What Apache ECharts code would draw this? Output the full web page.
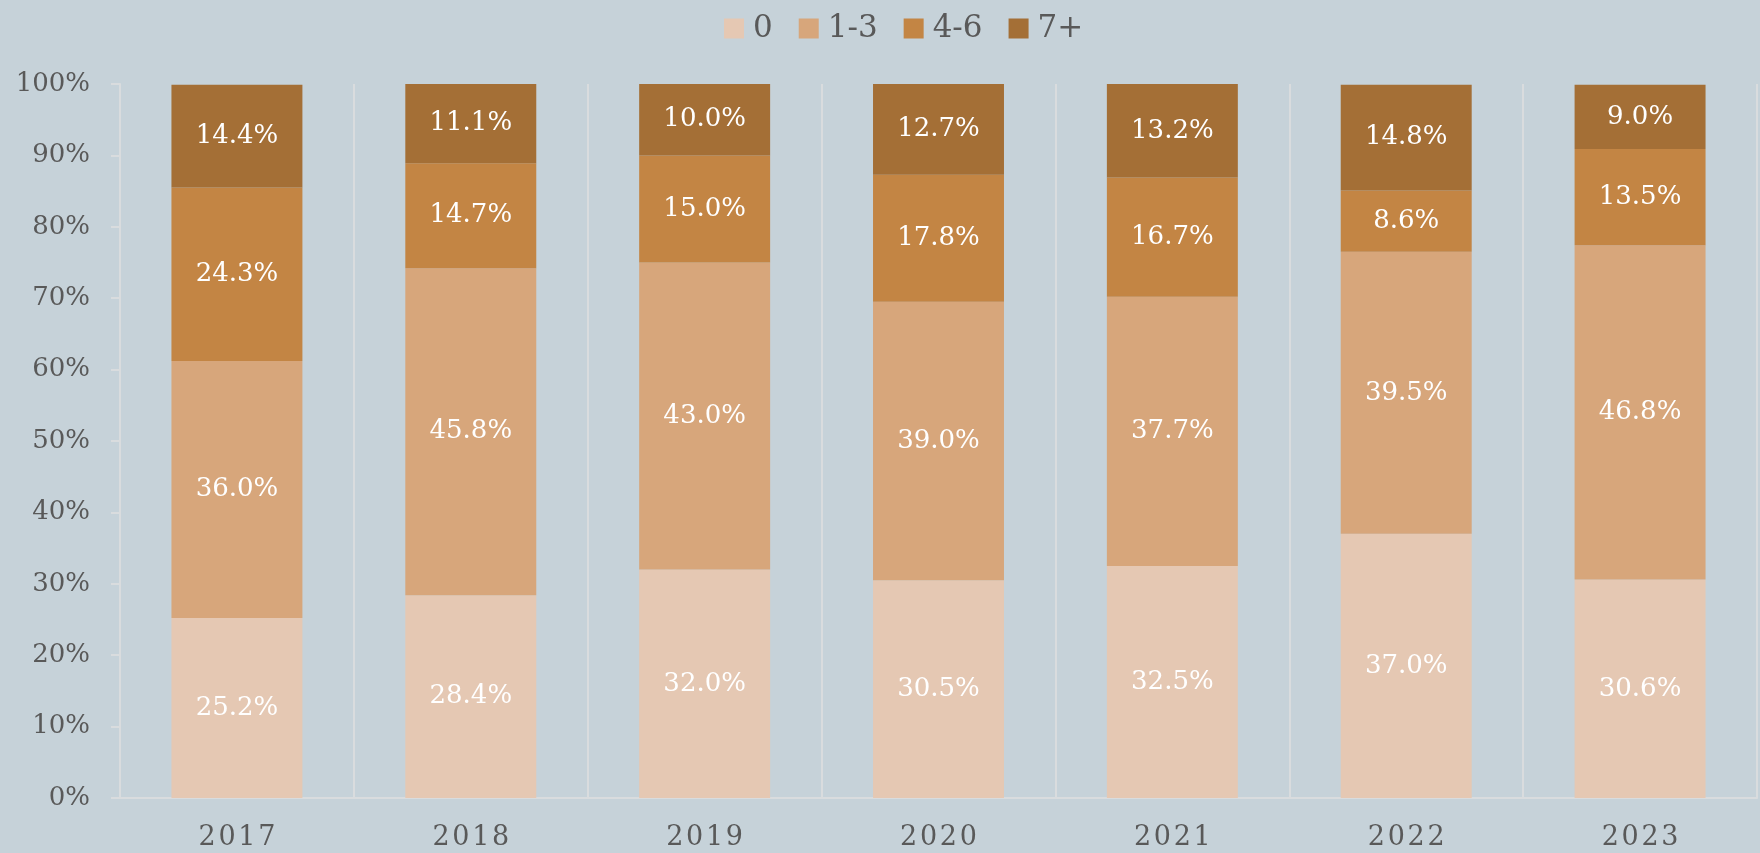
<!DOCTYPE html>
<html>
<head>
<meta charset="utf-8">
<script src="https://cdn.jsdelivr.net/npm/echarts@6/dist/echarts.min.js"></script>
<style>
  html, body { margin: 0; padding: 0; background: #c6d2d9; }
  #chart { width: 1760px; height: 853px; }
</style>
</head>
<body>
<div id="chart"></div>
<script>
  // data
  var years = ['2017', '2018', '2019', '2020', '2021', '2022', '2023'];
  var seriesNames = ['0', '1-3', '4-6', '7+'];
  var zero = [25.2, 28.4, 32.0, 30.5, 32.5, 37.0, 30.6];
  var oneToThree = [36.0, 45.8, 43.0, 39.0, 37.7, 39.5, 46.8];
  var fourToSix = [24.3, 14.7, 15.0, 17.8, 16.7, 8.6, 13.5];
  var sevenPlus = [14.4, 11.1, 10.0, 12.7, 13.2, 14.8, 9.0];
  var yTicks = [0, 10, 20, 30, 40, 50, 60, 70, 80, 90, 100];

  var font = 'Georgia, "DejaVu Serif", serif';
  var colors = ['#e5c8b3', '#d7a67b', '#c38544', '#a46f36'];
  var values = [zero, oneToThree, fourToSix, sevenPlus];

  var myChart = echarts.init(document.getElementById('chart'));

  var option = {
    backgroundColor: '#c6d2d9',
    color: colors,
    textStyle: { fontFamily: font },
    legend: {
      top: 8,
      left: 719,
      itemWidth: 20,
      itemHeight: 20,
      itemGap: 26,
      icon: 'rect',
      textStyle: { color: '#595959', fontSize: 31, fontFamily: font, padding: [0, 0, 0, 4] },
      data: seriesNames
    },
    grid: {
      left: 120,
      right: 3,
      top: 84,
      bottom: 55
    },
    xAxis: {
      type: 'category',
      data: years,
      axisTick: { show: false },
      axisLine: { lineStyle: { color: '#d9dcde', width: 2 } },
      splitLine: { show: true, lineStyle: { color: '#d9dcde', width: 2 } },
      axisLabel: {
        color: '#595959',
        fontSize: 27,
        margin: 26,
        fontFamily: font,
        formatter: function (v) { return v.split('').join('\u200a'); }
      }
    },
    yAxis: {
      type: 'value',
      min: 0,
      max: 100,
      interval: 10,
      axisLine: { show: true, lineStyle: { color: '#d9dcde', width: 2 } },
      axisTick: { show: true, length: 9, lineStyle: { color: '#d9dcde', width: 2 } },
      splitLine: { show: false },
      axisLabel: {
        color: '#595959',
        fontSize: 26,
        margin: 30,
        fontFamily: font,
        formatter: function (v) { return yTicks.indexOf(v) >= 0 ? v + '%' : ''; }
      }
    },
    series: []
  };

  seriesNames.forEach(function (name, i) {
    option.series.push({
      name: name,
      type: 'bar',
      stack: 'total',
      barWidth: '56%',
      data: values[i],
      itemStyle: { color: colors[i] },
      label: {
        show: true,
        position: 'inside',
        color: '#ffffff',
        fontSize: 26,
        fontFamily: font,
        formatter: function (p) { return p.value.toFixed(1) + '%'; }
      }
    });
  });

  myChart.setOption(option);
</script>
</body>
</html>
